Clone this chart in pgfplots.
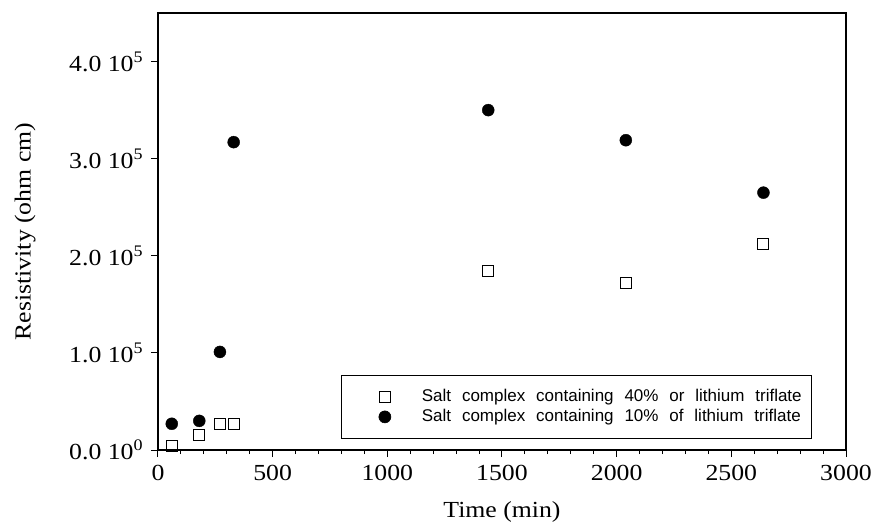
\documentclass[border=0pt]{standalone}
\usepackage{fontspec}
\setmainfont{Liberation Serif}[FakeStretch=1.12]
\newfontfamily\legendfont{Liberation Sans}[WordSpace=2.3]
\usepackage{pgfplots}
\pgfplotsset{compat=1.18}
\begin{document}
\fontsize{23}{27}\selectfont
\begin{tikzpicture}
\useasboundingbox (-158pt,-75pt) rectangle (715pt,450pt);
\begin{axis}[
  at={(0pt,0pt)}, anchor=south west,
  scale only axis, width=688pt, height=437pt,
  xmin=0, xmax=3000, ymin=0, ymax=450000,
  xtick={0,500,1000,1500,2000,2500,3000},
  minor x tick num=4,
  ytick={0,100000,200000,300000,400000},
  yticklabels={0.0 10\textsuperscript{0},1.0 10\textsuperscript{5},2.0 10\textsuperscript{5},3.0 10\textsuperscript{5},4.0 10\textsuperscript{5}},
  scaled ticks=false,
  /pgf/number format/assume math mode=true,
  xticklabel style={/pgf/number format/.cd, fixed, 1000 sep={}},
  xtick pos=left, ytick pos=left,
  tick align=outside,
  major tick length=7pt, minor tick length=4pt,
  tick style={black, line width=1pt},
  axis line style={line width=1.2pt},
  clip=false,
  xlabel={Time (min)},
  ylabel={Resistivity (ohm cm)},
  xlabel style={at={(axis description cs:0.5,-0.1556)}, anchor=base},
  ylabel style={at={(axis description cs:-0.1933,0.5)}, anchor=center},
  legend style={at={(rel axis cs:0.9506,0.025)}, anchor=south east,
    draw=black, line width=0.6pt, font=\legendfont\fontsize{17}{20}\selectfont,
    inner xsep=8pt, inner ysep=12pt, row sep=0pt},
  legend cell align=left,
  legend image code/.code={\path[draw=none,fill=none] (0pt,0pt) -- (71pt,0pt); \draw[#1] plot coordinates {(36pt,0pt)};},
]
\addplot[only marks, mark=square, mark size=5.5pt, mark options={line width=1.1pt, black, fill=white}]
  coordinates {(60,4000) (180,15000) (270,27000) (330,27000) (1440,184500) (2040,172000) (2640,212000)};
\addlegendentry{Salt complex containing 40\% or lithium triflate}
\addplot[only marks, mark=*, mark size=6pt, mark options={black, fill=black}]
  coordinates {(60,27000) (180,30000) (270,101000) (330,317000) (1440,350000) (2040,319000) (2640,265000)};
\addlegendentry{Salt complex containing 10\% of lithium triflate}
\end{axis}
\end{tikzpicture}
\end{document}
